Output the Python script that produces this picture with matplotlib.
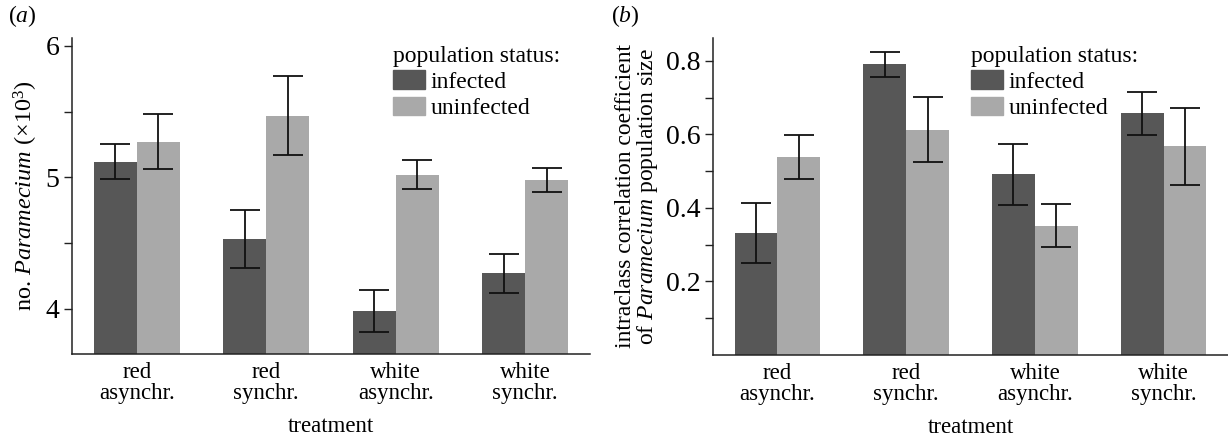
import matplotlib
matplotlib.use("Agg")
import matplotlib.pyplot as plt
import numpy as np
from matplotlib.patches import Patch
from matplotlib.ticker import FixedLocator

plt.rcParams['font.family'] = ['Liberation Serif', 'DejaVu Serif']
plt.rcParams['mathtext.fontset'] = 'custom'
plt.rcParams['mathtext.rm'] = 'Liberation Serif'
plt.rcParams['mathtext.it'] = 'Liberation Serif:italic'

categories = ["red\nasynchr.", "red\nsynchr.", "white\nasynchr.", "white\nsynchr."]
series_names = ["infected", "uninfected"]

# panel (a): no. Paramecium (x10^3)
a_infected = [5.12, 4.53, 3.98, 4.27]
a_infected_err = [0.135, 0.22, 0.16, 0.15]
a_uninfected = [5.27, 5.47, 5.02, 4.98]
a_uninfected_err = [0.21, 0.30, 0.11, 0.09]
a_major = [4, 5, 6]
a_minor = [4.5, 5.5]

# panel (b): intraclass correlation coefficient
b_infected = [0.332, 0.791, 0.492, 0.657]
b_infected_err = [0.082, 0.034, 0.083, 0.058]
b_uninfected = [0.538, 0.613, 0.352, 0.567]
b_uninfected_err = [0.059, 0.089, 0.058, 0.106]
b_major = [0.2, 0.4, 0.6, 0.8]
b_minor = [0.1, 0.3, 0.5, 0.7]

dark = "#575757"
light = "#a9a9a9"

W, H = 1228, 437
fig = plt.figure(figsize=(W / 100, H / 100), dpi=100)

def px_axes(x0, y0, x1, y1):
    return fig.add_axes([x0 / W, 1 - y1 / H, (x1 - x0) / W, (y1 - y0) / H])

ax_a = px_axes(72, 38, 590, 354)
ax_b = px_axes(713, 38, 1228, 355)

bw = 0.333
x = np.arange(len(categories))

def draw(ax, inf, inf_err, uninf, uninf_err, ylim, major, minor, fmt):
    ax.bar(x - bw / 2, inf, bw, color=dark, zorder=2)
    ax.bar(x + bw / 2, uninf, bw, color=light, zorder=2)
    for xs, v, e in ((x - bw / 2, inf, inf_err), (x + bw / 2, uninf, uninf_err)):
        ax.errorbar(xs, v, yerr=e, fmt='none', ecolor='#111111',
                    elinewidth=1.3, capsize=10.5, capthick=1.3, zorder=3)
    ax.set_xlim(-0.5, 3.5)
    ax.set_ylim(*ylim)
    ax.spines['top'].set_visible(False)
    ax.spines['right'].set_visible(False)
    for s in ('left', 'bottom'):
        ax.spines[s].set_linewidth(1.1)
        ax.spines[s].set_color('#222222')
    ax.yaxis.set_major_locator(FixedLocator(major))
    ax.yaxis.set_minor_locator(FixedLocator(minor))
    ax.set_yticklabels([fmt(v) for v in major])
    ax.tick_params(axis='y', which='both', length=6, width=1.0, labelsize=20,
                   color='#222222', pad=3)
    ax.set_xticks(x)
    ax.set_xticklabels(categories, fontsize=16.5, linespacing=0.96)
    ax.tick_params(axis='x', length=0, pad=6)
    ax.set_xlabel("treatment", fontsize=16.5, labelpad=9)
    return [Patch(color=dark), Patch(color=light)]

def add_legend(ax, handles, x_px, ax_x0, ax_w):
    leg = ax.legend(handles, series_names, title="population status:", loc='upper left',
                    bbox_to_anchor=((x_px - ax_x0) / ax_w, 0.975), frameon=False,
                    fontsize=17, title_fontsize=17, handlelength=1.35,
                    handleheight=0.85, handletextpad=0.25, labelspacing=0.15,
                    borderpad=0, borderaxespad=0)
    leg._legend_box.align = 'left'

h = draw(ax_a, a_infected, a_infected_err, a_uninfected, a_uninfected_err,
         (3.656, 6.06), a_major, a_minor, lambda v: f"{v:.0f}")
ax_a.set_ylabel("no. $\\it{Paramecium}$ (×10$^3$)", fontsize=17.5, labelpad=4)
add_legend(ax_a, h, 393, 72, 518)

h = draw(ax_b, b_infected, b_infected_err, b_uninfected, b_uninfected_err,
         (0.0, 0.862), b_major, b_minor, lambda v: f"{v:.1f}")
ax_b.set_ylabel("intraclass correlation coefficient\nof $\\it{Paramecium}$ population size",
                fontsize=17, labelpad=4, linespacing=0.95)
add_legend(ax_b, h, 971, 713, 515)

fig.text(8 / W, 1 - 16 / H, "($\\it{a}$)", fontsize=17, va='center', ha='left')
fig.text(611 / W, 1 - 16 / H, "($\\it{b}$)", fontsize=17, va='center', ha='left')

fig.savefig("out.png", dpi=100)
